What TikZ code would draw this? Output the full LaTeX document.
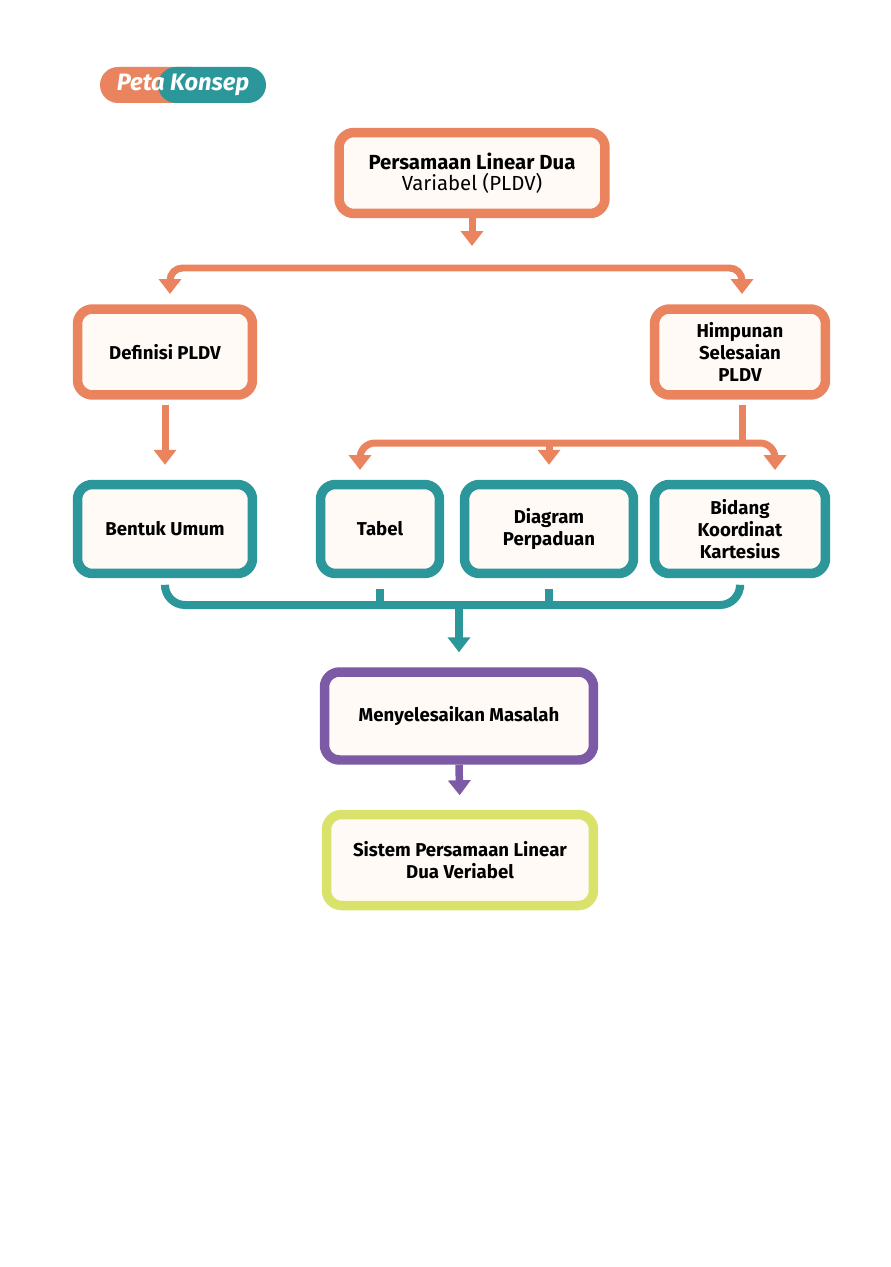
\documentclass[tikz,border=0pt]{standalone}
\usepackage{fontspec}
\setmainfont{Fira Sans}
\usetikzlibrary{arrows.meta,positioning}
\definecolor{oranye}{HTML}{E9845F}
\definecolor{tosca}{HTML}{2B979B}
\definecolor{ungu}{HTML}{7D5AA6}
\definecolor{limau}{HTML}{D9E36B}
\definecolor{kertas}{HTML}{FFFAF6}

\begin{document}
\begin{tikzpicture}[x=0.02cm,y=-0.02cm,>={Triangle[width=0.44cm,length=0.3cm]}]

	\tikzstyle{box}=[rectangle,rounded corners=0.3cm,line width=0.19cm,fill=kertas,align=center,inner sep=0pt,font=\bfseries\fontsize{10.6}{12.5}\selectfont]
	\tikzstyle{obox}=[box,draw=oranye]
	\tikzstyle{tbox}=[box,draw=tosca,minimum height=1.78cm]
	\tikzstyle{oline}=[draw=oranye,line width=0.14cm]
	\tikzstyle{tline}=[draw=tosca,line width=0.16cm]
	\tikzstyle{uline}=[draw=ungu,line width=0.15cm]

	\useasboundingbox[fill=white] (0,0) rectangle (890,1267);

	% label
	\fill[oranye,rounded corners=0.36cm] (100,67) rectangle (210,103);
	\fill[tosca,rounded corners=0.36cm] (158,67) rectangle (266,103);
	\node (tag) at (183,85) [text=white,font=\bfseries\itshape\fontsize{13.5}{14}\selectfont] {Peta Konsep};

	% boxes
	\node [obox] (pldv) at (472,173) [minimum width=5.32cm,minimum height=1.62cm,font=\bfseries\fontsize{11.6}{13}\selectfont]	{Persamaan Linear Dua\\[-1pt]\mdseries Variabel (PLDV)};
	\node [obox] (def) at (165,352) [minimum width=3.5cm,minimum height=1.72cm]		{Definisi PLDV};
	\node [obox] (him) at (740,352) [minimum width=3.42cm,minimum height=1.72cm]		{Himpunan\\Selesaian\\PLDV};
	\node [tbox] (bentuk) at (165,529) [minimum width=3.5cm]		{Bentuk Umum};
	\node [tbox] (tabel) at (380,529) [minimum width=2.38cm]		{Tabel};
	\node [tbox] (diag) at (549,529) [minimum width=3.38cm]		{Diagram\\Perpaduan};
	\node [tbox] (bidang) at (740,529) [minimum width=3.42cm]		{Bidang\\Koordinat\\Kartesius};
	\node [box,draw=ungu] (selesai) at (459,716) [minimum width=5.38cm,minimum height=1.76cm]	{Menyelesaikan Masalah};
	\node [box,draw=limau] (spldv) at (460,860) [minimum width=5.34cm,minimum height=1.82cm]	{Sistem Persamaan Linear\\Dua Veriabel};

	\coordinate (cab1) at (472,268);
	\coordinate (ujung1a) at (170,294);
	\coordinate (ujung1b) at (742,294);
	\coordinate (cab2) at (742,443);
	\coordinate (ujung2a) at (360,470);
	\coordinate (ujung2b) at (775,470);
	\coordinate (cab3) at (459,605);

	% orange
	\draw [oline,->,shorten >=0.44cm] (pldv.south) -- (cab1);
	\draw [oline,<->,rounded corners=0.25cm] (ujung1a) |- (cab1) -| (ujung1b);
	\draw [oline,->,shorten <=0.1cm,shorten >=0.3cm] (def.south) -- (bentuk.north);
	\draw [oline,shorten <=0.1cm] (him.south -| cab2) -- (cab2);
	\draw [oline,<->,rounded corners=0.3cm] (ujung2a) |- (cab2) -| (ujung2b);
	\draw [oline,->,shorten >=0.3cm] (diag.north |- cab2) -- (diag.north);

	% teal
	\draw [tline,rounded corners=0.4cm,shorten <=0.22cm,shorten >=0.22cm] (bentuk.south) |- (cab3) -| (bidang.south);
	\draw [tline,shorten <=0.22cm] (tabel.south) -- (tabel.south |- cab3);
	\draw [tline,shorten <=0.22cm] (diag.south) -- (diag.south |- cab3);
	\draw [tline,->,shorten >=0.3cm] (cab3) -- (selesai.north);

	% purple
	\draw [uline,->,shorten >=0.29cm] (selesai.south) -- (spldv.north);
\end{tikzpicture}
\end{document}
